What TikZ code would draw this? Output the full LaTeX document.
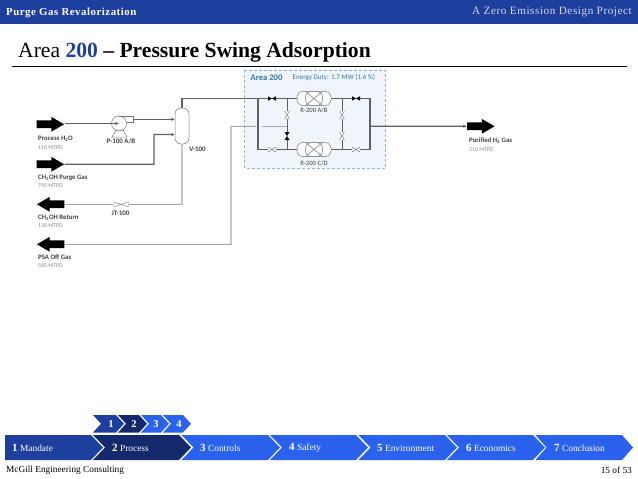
\documentclass[tikz,border=0pt]{standalone}
\usepackage{fontspec}
\setmainfont{Liberation Serif}
\newfontfamily\diag{Carlito}
\newfontfamily\widefam[LetterSpace=5]{Liberation Serif}
\usetikzlibrary{shapes.arrows,arrows.meta,backgrounds}
\definecolor{hdr}{HTML}{1F3F9E}
\definecolor{navy}{HTML}{14296B}
\definecolor{bright}{HTML}{2A62EE}
\definecolor{pipe}{HTML}{606060}
\definecolor{pipelite}{HTML}{A8A8A8}
\definecolor{areafill}{HTML}{EFF5FA}
\definecolor{areaedge}{HTML}{8FB4D4}
\definecolor{areatext}{HTML}{2E75B6}
\definecolor{equip}{HTML}{777777}
\definecolor{subtle}{HTML}{8A8A8A}
\newcommand{\chev}[7]{% name,x0,x1,ytop,ybot,colour,depth
  \fill[#6] (#2,#4) -- (#3,#4) -- ({#3+#7},{(#4+#5)/2}) -- (#3,#5) -- (#2,#5) -- ({#2+#7},{(#4+#5)/2}) -- cycle;
  \coordinate (#1) at ({#2+#7},{(#4+#5)/2});}
\newcommand{\shaft}{\rule{0pt}{7.4pt}}
\tikzset{
  flowR/.style={single arrow,fill=black,draw=none,minimum height=27.5,single arrow head extend=3.5,single arrow tip angle=60,inner sep=0},
  flowL/.style={flowR,shape border rotate=180},
  labelmain/.style={font=\diag\bfseries\fontsize{6.8}{7}\selectfont,text=black!75,anchor=west,inner sep=0},
  labelsub/.style={font=\diag\fontsize{5.8}{6}\selectfont,text=subtle,anchor=west,inner sep=0},
  tag/.style={font=\diag\bfseries\fontsize{6.9}{7}\selectfont,text=black!75,inner sep=0},
  line main/.style={draw=pipe,line width=1.2pt},
  line lite/.style={draw=pipelite,line width=1.1pt},
  tiny tip/.style={-{Latex[length=3.5pt,width=3.5pt]}},
  valveH/.style={minimum width=#1,minimum height=5,inner sep=0,outer sep=0,
    path picture={\draw[equip,line width=.4pt,fill=white]
      (path picture bounding box.north west) -- (path picture bounding box.south east) -- (path picture bounding box.north east) -- (path picture bounding box.south west) -- cycle;}},
  valveHB/.style={minimum width=8,minimum height=4.5,inner sep=0,outer sep=0,
    path picture={\fill[black]
      (path picture bounding box.north west) -- (path picture bounding box.south east) -- (path picture bounding box.north east) -- (path picture bounding box.south west) -- cycle;}},
  valveV/.style={minimum width=5,minimum height=8,inner sep=0,outer sep=0,
    path picture={\draw[equip,line width=.4pt,fill=white]
      (path picture bounding box.north west) -- (path picture bounding box.south east) -- (path picture bounding box.south west) -- (path picture bounding box.north east) -- cycle;}},
  valveVB/.style={minimum width=5,minimum height=8,inner sep=0,outer sep=0,
    path picture={\fill[black]
      (path picture bounding box.north west) -- (path picture bounding box.south east) -- (path picture bounding box.south west) -- (path picture bounding box.north east) -- cycle;}},
  reactor/.style={draw=equip,line width=.5pt,fill=white,rounded corners=6,minimum width=34,minimum height=14,inner sep=0,
    path picture={\draw[equip,line width=.5pt]
      ([xshift=-8.5pt]path picture bounding box.north) rectangle ([xshift=8.5pt]path picture bounding box.south)
      ([xshift=-8.5pt]path picture bounding box.north) -- ([xshift=8.5pt]path picture bounding box.south)
      ([xshift=8.5pt]path picture bounding box.north) -- ([xshift=-8.5pt]path picture bounding box.south);}},
  vessel/.style={draw=equip,line width=.5pt,fill=white,rounded corners=6,minimum width=14,minimum height=36,inner sep=0},
  pumpbody/.style={circle,draw=equip,line width=.5pt,minimum size=15,inner sep=0},
  barwhite/.style={text=white,font=\bfseries\fontsize{9.4}{10}\selectfont,inner sep=0,anchor=west},
  smallnum/.style={text=white,font=\bfseries\fontsize{10.5}{11}\selectfont,inner sep=0},
}
\newcommand{\barlabel}[2]{{\fontsize{11}{11}\selectfont\bfseries #1}\ {\fontseries{m}\selectfont #2}}
\begin{document}
\begin{tikzpicture}[x=1pt,y=-1pt]
\useasboundingbox (0,0) rectangle (638,479);
% header
\fill[hdr] (0,0) rectangle (638,24);
\node[anchor=west,inner sep=0,text=white,font=\widefam\bfseries\fontsize{10.8}{11}\selectfont] (deck) at (6,12.5) {Purge Gas Revalorization};
\node[anchor=east,inner sep=0,text=white!80!hdr,font=\widefam\fontsize{11.2}{12}\selectfont] (proj) at (632,12.5) {A Zero Emission Design Project};
\node[anchor=base west,inner sep=0,font=\fontsize{21.6}{24}\selectfont] (title) at (18,57) {Area {\bfseries\textcolor{hdr}{200}} {\bfseries -- Pressure Swing Adsorption}};
\draw[black,line width=.8pt] (12,66) -- (627,66);
% equipment and labels
\node[flowR] (inH2O) at (47,124.3) {\shaft};
\node[flowR] (inCH) at (47,164.3) {\shaft};
\node[flowL] (retCH) at (54,204.3) {\shaft};
\node[flowL] (offgas) at (54,244.3) {\shaft};
\node[flowR] (prod) at (477.5,126.3) {\shaft};
\node[labelmain] (l1) at (38,139) {Process H\textsubscript{2}O};
\node[labelsub] (s1) at (38,148) {110 MTPD};
\node[labelmain] (l2) at (38,177.5) {CH\textsubscript{3}OH Purge Gas};
\node[labelsub] (s2) at (38,186) {790 MTPD};
\node[labelmain] (l3) at (38,217.5) {CH\textsubscript{3}OH Return};
\node[labelsub] (s3) at (38,226) {130 MTPD};
\node[labelmain] (l4) at (38,257.5) {PSA Off Gas};
\node[labelsub] (s4) at (38,266) {560 MTPD};
\node[labelmain] (l5) at (469,141) {Purified H\textsubscript{2} Gas};
\node[labelsub] (s5) at (469,149.5) {210 MTPD};
\begin{scope}[on background layer]
\fill[areafill] (244.5,70) rectangle (385,168);
\draw[areaedge,line width=.5pt,densely dashed] (244.5,70) rectangle (385,168);
\end{scope}
\node[anchor=west,inner sep=0,text=areatext,font=\diag\bfseries\fontsize{8.6}{9}\selectfont] (aname) at (250.5,77.5) {Area 200};
\node[anchor=west,inner sep=0,text=areatext,font=\diag\fontsize{7}{8}\selectfont] (aduty) at (292.5,78) {Energy Duty: 1.7 MW (1.6 \%)};
% pump
\draw[equip,line width=.5pt,fill=white] (112,137) -- (116,130) -- (123,130) -- (127,137) -- cycle;
\draw[equip,line width=.5pt] (119,116) -- (133,116) -- (133,122) -- (126.5,122);
\node[pumpbody] (P100) at (119,123.5) {};
\node[tag] (P100t) at (121,141.5) {P-100 A/B};
\node[vessel] (V100) at (182,126) {};
\node[tag] (V100t) at (197.5,149.5) {V-100};
\node[valveH=15] (JT) at (121,204.3) {};
\node[tag] (JTt) at (120.5,213) {JT-100};
\node[reactor] (RAB) at (314,98.5) {};
\node[reactor] (RCD) at (314,149.5) {};
\node[tag,font=\diag\fontsize{6.6}{7}\selectfont] (RABt) at (314,110.5) {R-200 A/B};
\node[tag,font=\diag\fontsize{6.6}{7}\selectfont] (RCDt) at (314,163) {R-200 C/D};
\node[valveHB] (v1) at (272,98.5) {};
\node[valveHB] (v2) at (356,98.5) {};
\node[valveH=8] (v3) at (272,149.5) {};
\node[valveH=8] (v4) at (356,149.5) {};
\node[valveV] (v5) at (287,115) {};
\node[valveVB] (v6) at (287,136) {};
\node[valveV] (v7) at (342,115) {};
\node[valveV] (v8) at (342,136) {};
% junction points
\coordinate (pumpout) at (133,119.3);
\coordinate (vin1) at (V100.west |- pumpout);
\coordinate (vin2) at (175,134.5);
\coordinate (bendA) at (154,164.3);
\coordinate (bendB) at (154,134.5);
\coordinate (vtop) at (182,98.5);
\coordinate (lA) at (258,98.5);
\coordinate (lB) at (258,149.5);
\coordinate (rA) at (370,98.5);
\coordinate (rB) at (370,149.5);
\coordinate (rM) at (370,126.3);
\coordinate (cTL) at (287,98.5);
\coordinate (cBL) at (287,149.5);
\coordinate (cTR) at (342,98.5);
\coordinate (cBR) at (342,149.5);
\coordinate (retB) at (182,204.3);
\coordinate (offB) at (231,244.3);
\coordinate (offT) at (231,126.3);
\coordinate (gapL) at (256,126.3);
\coordinate (gapR) at (262,126.3);
\coordinate (cMid) at (287,126.3);
\begin{scope}[on background layer]
\draw[line main,tiny tip] (inH2O.east |- P100) -- (P100.center);
\draw[line main,tiny tip] (pumpout) -- (vin1);
\draw[line main,tiny tip] (inCH.east) -- (bendA) -- (bendB) -- (vin2);
\draw[line main] (V100.north) -- (vtop) -- (lA) -- (v1) (v1) -- (RAB);
\draw[line main] (lA) -- (lB) -- (v3) (v3) -- (RCD);
\draw[line main] (RAB) -- (v2) (v2) -- (rA) -- (rB) -- (v4) (v4) -- (RCD);
\draw[line main,tiny tip] (rM) -- (prod.west);
\draw[pipe,line width=.7pt] (cTL) -- (v5) (v5) -- (v6) (v6) -- (cBL);
\draw[pipe,line width=.7pt] (cTR) -- (v7) (v7) -- (v8) (v8) -- (cBR);
\draw[line lite] (V100.south) -- (retB) -- (JT) (JT) -- (retCH.east);
\draw[line lite] (offgas.east) -- (offB) -- (offT) -- (gapL);
\draw[line lite] (gapR) -- (cMid);
\end{scope}
% navigation bar
\fill[hdr] (5,435) -- (91,435) -- (103,447.5) -- (91,460) -- (5,460) -- cycle;
\chev{c2}{93}{179}{435}{460}{navy}{12}
\chev{c3}{181.5}{268}{435}{460}{bright}{12}
\chev{c4}{270}{356}{435}{460}{bright}{12}
\chev{c5}{358.5}{445}{435}{460}{bright}{12}
\chev{c6}{447}{533}{435}{460}{bright}{12}
\chev{c7}{535.5}{622}{435}{460}{bright}{11}
\node[barwhite] (n1) at (12,448) {\barlabel{1}{Mandate}};
\node[barwhite] (n2) at (112,448) {\barlabel{2}{Process}};
\node[barwhite] (n3) at (200,448) {\barlabel{3}{Controls}};
\node[barwhite] (n4) at (289,448) {\barlabel{4}{Safety}};
\node[barwhite] (n5) at (377,448) {\barlabel{5}{Environment}};
\node[barwhite] (n6) at (466,448) {\barlabel{6}{Economics}};
\node[barwhite] (n7) at (554,448) {\barlabel{7}{Conclusion}};
\chev{k1}{93}{116}{415}{432.5}{hdr}{8}
\chev{k2}{118}{139}{415}{432.5}{navy}{8}
\chev{k3}{141}{161}{415}{432.5}{bright}{8}
\chev{k4}{163}{183}{415}{432.5}{bright}{8}
\node[smallnum] (m1) at (111,424) {1};
\node[smallnum] (m2) at (134,424) {2};
\node[smallnum] (m3) at (156,424) {3};
\node[smallnum] (m4) at (179,424) {4};
\node[anchor=west,inner sep=0,font=\fontsize{9.3}{10}\selectfont] (foot) at (6,470) {McGill Engineering Consulting};
\node[anchor=east,inner sep=0,font=\fontsize{9.3}{10}\selectfont] (page) at (632,470) {15 of 53};
\end{tikzpicture}
\end{document}
